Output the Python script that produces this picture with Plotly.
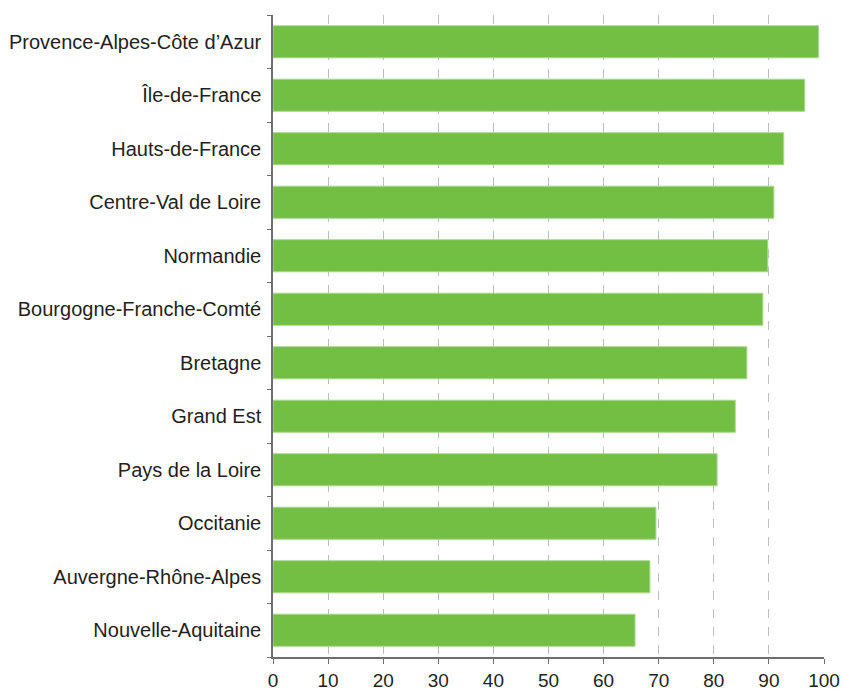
import plotly.graph_objects as go

REGIONS = [
    "Provence-Alpes-Côte d’Azur",
    "Île-de-France",
    "Hauts-de-France",
    "Centre-Val de Loire",
    "Normandie",
    "Bourgogne-Franche-Comté",
    "Bretagne",
    "Grand Est",
    "Pays de la Loire",
    "Occitanie",
    "Auvergne-Rhône-Alpes",
    "Nouvelle-Aquitaine",
]
VALUES = [99.0, 96.5, 92.7, 90.9, 89.8, 88.9, 86.0, 83.9, 80.6, 69.5, 68.4, 65.7]
X_TICKS = list(range(0, 101, 10))

BAR_COLOR = "#72bf44"
AXIS_COLOR = "#6d6e71"
GRID_COLOR = "#bcbec0"
TEXT_COLOR = "#231f20"

fig = go.Figure(go.Bar(
    x=VALUES,
    y=REGIONS,
    orientation="h",
    width=0.6,
    marker=dict(color=BAR_COLOR, line=dict(color="#a9d98e", width=1)),
    hoverinfo="x+y",
))

fig.update_layout(
    width=843,
    height=690,
    paper_bgcolor="white",
    plot_bgcolor="white",
    font=dict(family="Liberation Sans, Arial, sans-serif", size=20, color=TEXT_COLOR),
    margin=dict(l=273, r=19, t=15, b=33, autoexpand=False),
    showlegend=False,
    bargap=0.4,
)
fig.update_xaxes(
    range=[0, 100],
    tickvals=X_TICKS,
    ticks="outside",
    ticklen=5,
    tickcolor=AXIS_COLOR,
    showline=True,
    linecolor=AXIS_COLOR,
    linewidth=1.5,
    showgrid=True,
    gridcolor=GRID_COLOR,
    griddash="dash",
    gridwidth=1,
    zeroline=False,
    automargin=False,
    ticklabelstandoff=0,
    tickfont=dict(size=19),
)
fig.update_yaxes(
    categoryorder="array",
    categoryarray=REGIONS[::-1],
    ticks="outside",
    tickson="boundaries",
    ticklen=4,
    tickcolor=AXIS_COLOR,
    showline=True,
    linecolor=AXIS_COLOR,
    linewidth=1.5,
    showgrid=False,
    automargin=False,
    ticklabelstandoff=6,
    tickfont=dict(size=20),
)

# drop the default page margin / scrollbars so the figure fills the window exactly
fig.write_html(
    "out.html",
    config={"displayModeBar": False},
    post_script="document.body.style.margin='0';document.body.style.overflow='hidden';",
)
